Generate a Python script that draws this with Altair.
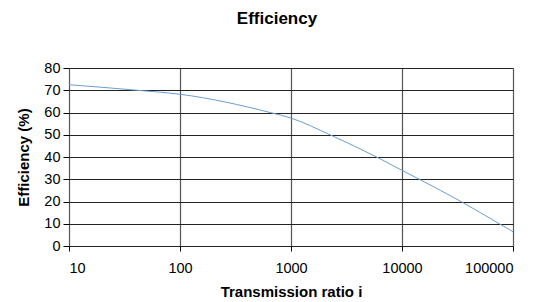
import altair as alt
import pandas as pd

ratio = [10, 41, 100, 648, 1000, 2245, 5900, 10000, 14300, 34000, 75300, 100000]
efficiency = [72.5, 70.0, 68.2, 60.0, 57.5, 50.0, 40.0, 34.0, 30.0, 20.0, 10.0, 6.4]
x_ticks = [10, 100, 1000, 10000, 100000]
y_ticks = [0, 10, 20, 30, 40, 50, 60, 70, 80]

df = pd.DataFrame({"ratio": ratio, "eff": efficiency})

FONT = "Liberation Sans"

line = alt.Chart(df).mark_line(color="#6a9fd0", strokeWidth=1, interpolate="monotone").encode(
    x=alt.X("ratio:Q",
            scale=alt.Scale(type="log", domain=[10, 100000], nice=False),
            axis=alt.Axis(values=x_ticks, format="d", title="Transmission ratio i",
                          grid=True, gridColor="#555555", gridWidth=1.2,
                          domain=False, tickColor="#000000", tickSize=5,
                          labelFont=FONT, labelFontSize=14.5, labelColor="#000000", labelPadding=10,
                          titleFont=FONT, titleFontSize=15, titleFontWeight="bold",
                          titleColor="#000000", titlePadding=10)),
    y=alt.Y("eff:Q",
            scale=alt.Scale(domain=[0, 80], nice=False),
            axis=alt.Axis(values=y_ticks, title="Efficiency (%)",
                          grid=True, gridColor="#222222", gridWidth=1.2,
                          domain=False, tickColor="#000000", tickSize=6,
                          labelFont=FONT, labelFontSize=14.5, labelColor="#000000", labelPadding=3,
                          titleFont=FONT, titleFontSize=15, titleFontWeight="bold",
                          titleColor="#000000", titlePadding=12)),
)

chart = line.properties(
    width=444,
    height=178,
    padding={"left": 61, "top": 60, "right": 32, "bottom": 56},
    autosize=alt.AutoSizeParams(type="none"),
    title=alt.TitleParams("Efficiency", font=FONT, fontSize=17, fontWeight="bold",
                          color="#000000", anchor="middle", offset=32, dx=-14),
).configure_view(stroke="#000000", strokeWidth=1.5).configure(background="#ffffff")

chart.save("out.html", embed_options={"renderer": "svg", "actions": False})
